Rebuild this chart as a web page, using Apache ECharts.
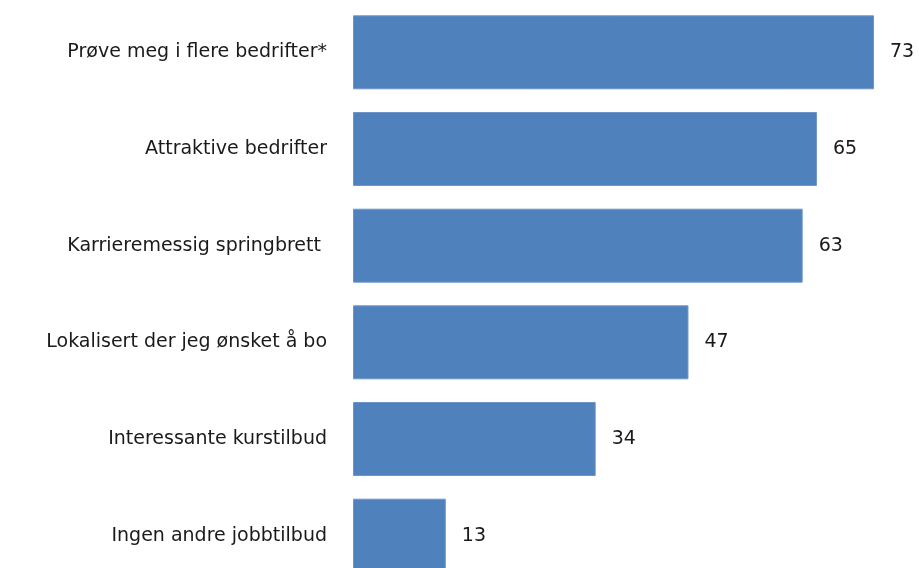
<!DOCTYPE html>
<html>
<head>
<meta charset="utf-8">
<script src="https://cdn.jsdelivr.net/npm/echarts@6/dist/echarts.min.js"></script>
<style>
  html, body { margin: 0; padding: 0; background: #ffffff; overflow: hidden; }
  /* the plot runs past the lower window edge, so the last bar is cut off */
  #chart { width: 919px; height: 600px; }
</style>
</head>
<body>
<div id="chart"></div>
<script>
// Reasons given (percent), top to bottom
const categories = [
  'Prøve meg i flere bedrifter*',
  'Attraktive bedrifter',
  'Karrieremessig springbrett ',
  'Lokalisert der jeg ønsket å bo',
  'Interessante kurstilbud',
  'Ingen andre jobbtilbud'
];
const values = [73, 65, 63, 47, 34, 13];

const textFont = 'DejaVu Sans';

const chart = echarts.init(document.getElementById('chart'));
chart.setOption({
  animation: false,
  backgroundColor: '#ffffff',
  grid: { left: 353, top: 4, right: 0, height: 580, containLabel: false },
  xAxis: {
    type: 'value', min: 0, max: 79.3,
    show: false
  },
  yAxis: {
    type: 'category',
    inverse: true,
    data: categories,
    axisLine: { show: false },
    axisTick: { show: false },
    splitLine: { show: false },
    axisLabel: {
      margin: 26,
      color: '#1a1a1a',
      fontFamily: textFont,
      fontSize: 19
    }
  },
  series: [{
    type: 'bar',
    data: values,
    barCategoryGap: '23.5%',
    itemStyle: { color: '#4f81bd', borderColor: '#6d95c8', borderWidth: 1 },
    label: {
      show: true,
      position: 'right',
      distance: 16,
      color: '#1a1a1a',
      fontFamily: textFont,
      fontSize: 19
    }
  }]
});
</script>
</body>
</html>
